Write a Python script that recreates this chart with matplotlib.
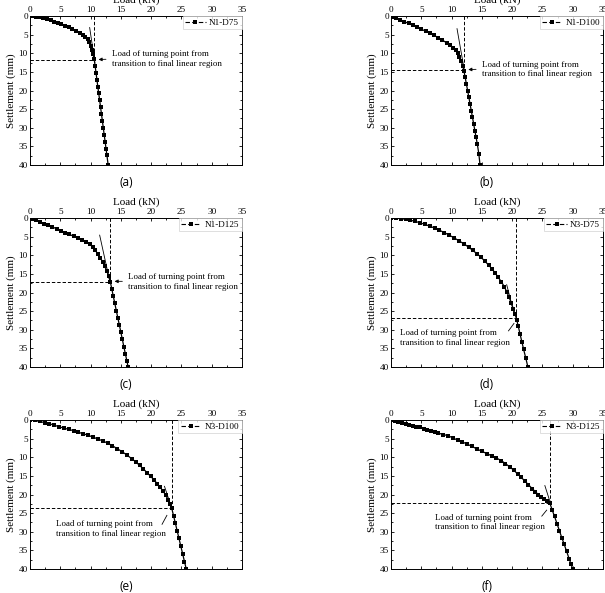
import matplotlib
matplotlib.use("Agg")
import matplotlib.pyplot as plt
from matplotlib.lines import Line2D
from matplotlib.ticker import MultipleLocator

# load (kN) / settlement (mm)
load_a = [0, 0.5, 1.0, 1.6, 2.2, 2.8, 3.4, 4.0, 4.6, 5.2, 5.8, 6.4, 7.0, 7.6, 8.2, 8.7, 9.1, 9.5, 9.8, 10.0,
          10.2, 10.4, 10.6, 10.75, 10.9, 11.05, 11.2, 11.35, 11.5, 11.65, 11.8, 11.95, 12.1, 12.25, 12.4, 12.55, 12.7, 12.9]
set_a = [0, 0.05, 0.15, 0.35, 0.6, 0.85, 1.15, 1.5, 1.85, 2.2, 2.6, 3.0, 3.45, 3.9, 4.5, 5.0, 5.6, 6.3, 7.1, 8.0,
         9.0, 10.2, 11.6, 13.4, 15.2, 17.1, 19.0, 20.8, 22.6, 24.5, 26.3, 28.2, 30.0, 31.9, 33.7, 35.6, 37.4, 40.0]

load_b = [0, 0.4, 0.9, 1.5, 2.2, 2.9, 3.6, 4.3, 5.0, 5.7, 6.4, 7.1, 7.8, 8.5, 9.2, 9.8, 10.3, 10.7, 11.0, 11.3,
          11.6, 11.85, 12.05, 12.25, 12.45, 12.65, 12.85, 13.05, 13.25, 13.45, 13.65, 13.85, 14.05, 14.25, 14.5, 14.7]
set_b = [0, 0.3, 0.6, 1.0, 1.5, 2.0, 2.5, 3.0, 3.5, 4.1, 4.6, 5.2, 5.8, 6.5, 7.2, 7.9, 8.5, 9.2, 10.0, 11.0,
         12.2, 13.4, 14.8, 16.5, 18.3, 20.0, 21.8, 23.6, 25.4, 27.2, 29.0, 30.8, 32.6, 34.4, 37.0, 40.0]

load_c = [0, 0.4, 1.0, 1.6, 2.3, 3.0, 3.7, 4.4, 5.1, 5.8, 6.5, 7.2, 7.9, 8.6, 9.3, 9.9, 10.4, 10.8, 11.2, 11.6,
          12.0, 12.35, 12.7, 13.0, 13.25, 13.5, 13.75, 14.0, 14.25, 14.5, 14.75, 15.0, 15.25, 15.5, 15.75, 16.0, 16.2]
set_c = [0, 0.2, 0.6, 1.0, 1.5, 2.0, 2.4, 2.9, 3.4, 3.9, 4.4, 4.9, 5.4, 5.9, 6.4, 7.1, 7.9, 8.7, 9.7, 10.7,
         11.8, 13.0, 14.3, 15.6, 17.1, 19.0, 21.0, 22.9, 24.9, 26.8, 28.7, 30.7, 32.6, 34.6, 36.5, 38.4, 40.0]

load_d = [0, 0.8, 1.6, 2.4, 3.2, 4.0, 4.8, 5.6, 6.4, 7.2, 8.0, 8.8, 9.6, 10.4, 11.2, 12.0, 12.8, 13.5, 14.2, 14.9,
          15.5, 16.1, 16.7, 17.2, 17.7, 18.2, 18.7, 19.1, 19.5, 19.85, 20.2, 20.5, 20.75, 21.0, 21.3, 21.6, 21.9, 22.25, 22.6]
set_d = [0, 0.05, 0.15, 0.35, 0.6, 0.9, 1.3, 1.7, 2.2, 2.7, 3.3, 3.9, 4.6, 5.3, 6.1, 6.9, 7.8, 8.7, 9.6, 10.6,
         11.6, 12.6, 13.7, 14.8, 15.9, 17.1, 18.4, 19.8, 21.3, 22.8, 24.4, 25.9, 27.3, 29.0, 31.1, 33.2, 35.3, 37.6, 40.0]

load_e = [0, 0.8, 1.6, 2.4, 3.2, 4.0, 4.8, 5.6, 6.4, 7.2, 8.0, 8.8, 9.6, 10.4, 11.2, 12.0, 12.8, 13.6, 14.4, 15.2,
          16.0, 16.8, 17.5, 18.1, 18.7, 19.3, 19.9, 20.5, 21.0, 21.5, 22.0, 22.4, 22.8, 23.1, 23.4, 23.7, 24.0, 24.3,
          24.6, 24.9, 25.2, 25.5, 25.8]
set_e = [0, 0.1, 0.4, 0.7, 1.0, 1.4, 1.8, 2.2, 2.5, 2.9, 3.3, 3.7, 4.1, 4.6, 5.1, 5.6, 6.2, 6.9, 7.7, 8.5,
         9.4, 10.4, 11.3, 12.2, 13.1, 14.1, 15.1, 16.1, 17.1, 18.1, 19.1, 20.2, 21.4, 22.5, 23.7, 25.7, 27.7, 29.8,
         31.8, 33.9, 35.9, 38.0, 40.0]

load_f = [0, 0.6, 1.2, 1.8, 2.4, 3.0, 3.6, 4.2, 4.8, 5.4, 6.0, 6.6, 7.2, 7.8, 8.6, 9.4, 10.2, 11.0, 11.8, 12.6,
          13.4, 14.2, 15.0, 15.8, 16.6, 17.4, 18.2, 18.9, 19.6, 20.3, 20.9, 21.5, 22.1, 22.7, 23.3, 23.8, 24.3, 24.8,
          25.3, 25.8, 26.2, 26.6, 27.0, 27.4, 27.8, 28.2, 28.6, 29.0, 29.4, 29.7, 30.0]
set_f = [0, 0.2, 0.5, 0.8, 1.1, 1.4, 1.6, 1.8, 2.0, 2.3, 2.6, 2.9, 3.2, 3.5, 3.9, 4.2, 4.8, 5.4, 5.9, 6.5,
         7.1, 7.8, 8.4, 9.0, 9.6, 10.2, 10.9, 11.7, 12.6, 13.5, 14.5, 15.4, 16.4, 17.4, 18.4, 19.2, 20.0, 20.7,
         21.3, 21.8, 22.2, 24.1, 25.9, 27.8, 29.7, 31.6, 33.4, 35.3, 37.2, 38.6, 40.0]

names = ["N1-D75", "N1-D100", "N1-D125", "N3-D75", "N3-D100", "N3-D125"]
sub_labels = ["(a)", "(b)", "(c)", "(d)", "(e)", "(f)"]
loads = [load_a, load_b, load_c, load_d, load_e, load_f]
settles = [set_a, set_b, set_c, set_d, set_e, set_f]

# turning point (load, settlement)
turn_load = [10.6, 12.0, 13.15, 20.7, 23.4, 26.3]
turn_set = [11.7, 14.4, 17.1, 26.9, 23.7, 22.2]

# tangent line of the final linear region: (x0, y0, x1, y1)
tangents = [(9.85, 3.1, 10.7, 12.5), (10.9, 3.4, 12.1, 14.5), (11.5, 4.6, 13.2, 17.2),
            (19.1, 17.9, 20.3, 25.5), (22.2, 17.8, 23.4, 23.7), (25.4, 17.6, 26.3, 22.2)]

# annotation text anchor and pointer segment
note = "Load of turning point from\ntransition to final linear region"
note_xy = [(13.5, 11.6), (15.0, 14.3), (16.2, 17.2), (1.5, 32.2), (4.3, 29.3), (7.3, 27.5)]
pointer = [(13.0, 11.6, 10.85, 11.7), (14.5, 14.3, 12.3, 14.4), (15.7, 17.0, 13.5, 17.0),
           (19.4, 30.3, 20.3, 28.3), (21.8, 28.0, 22.6, 25.6), (24.9, 25.8, 25.7, 24.2)]
arrow_head = [True, True, True, False, False, False]

W, H = 605, 593
fig = plt.figure(figsize=(W / 100, H / 100), dpi=100)

serif = "Liberation Serif"
lefts = [30, 391]
tops = [16, 218, 420]
aw, ah = 212, 149

for i in range(6):
    r, c = divmod(i, 2)
    x0 = lefts[c]
    y0 = tops[r]
    ax = fig.add_axes([x0 / W, 1 - (y0 + ah) / H, aw / W, ah / H])

    ax.plot(loads[i], settles[i], color="k", lw=0.9, marker="s", ms=2.6, mew=0)
    tl, ts = turn_load[i], turn_set[i]
    ax.plot([tl, tl], [0, ts], color="k", lw=0.7, ls=(0, (3.5, 2)))
    ax.plot([0, tl], [ts, ts], color="k", lw=0.7, ls=(0, (3.5, 2)))
    tx0, ty0, tx1, ty1 = tangents[i]
    ax.plot([tx0, tx1], [ty0, ty1], color="k", lw=0.6)

    nx, ny = note_xy[i]
    ax.text(nx, ny, note, fontsize=6.4, family=serif, va="center", ha="left", linespacing=1.25)
    px0, py0, px1, py1 = pointer[i]
    if arrow_head[i]:
        ax.annotate("", xy=(px1, py1), xytext=(px0, py0),
                    arrowprops=dict(arrowstyle="-|>", color="k", lw=0.6, mutation_scale=5))
    else:
        ax.plot([px0, px1], [py0, py1], color="k", lw=0.6)

    ax.set_xlim(0, 35)
    ax.set_ylim(40, 0)
    ax.xaxis.set_major_locator(MultipleLocator(5))
    ax.xaxis.set_minor_locator(MultipleLocator(2.5))
    ax.yaxis.set_major_locator(MultipleLocator(5))
    ax.yaxis.set_minor_locator(MultipleLocator(2.5))
    ax.tick_params(which="both", direction="in", top=True, bottom=True, left=True, right=True,
                   labeltop=True, labelbottom=False, width=0.6, pad=1.5)
    ax.tick_params(which="major", length=2.5)
    ax.tick_params(which="minor", length=1.5)
    for lab in ax.get_xticklabels() + ax.get_yticklabels():
        lab.set_family(serif)
        lab.set_fontsize(6.6)
    for sp in ax.spines.values():
        sp.set_linewidth(0.7)

    ax.xaxis.set_label_position("top")
    ax.set_xlabel("Load (kN)", family=serif, fontsize=8, labelpad=2)
    ax.set_ylabel("Settlement (mm)", family=serif, fontsize=8, labelpad=2)

    handle = Line2D([], [], color="k", lw=0.8, ls=(0, (4, 2)), marker="s", ms=2.4, mew=0)
    leg = ax.legend([handle], [names[i]], loc="upper right", borderaxespad=0.05,
                    prop={"family": serif, "size": 6.6}, frameon=True, fancybox=False,
                    handlelength=2.2, handletextpad=0.4, borderpad=0.25, markerscale=1)
    leg.get_frame().set_edgecolor("#d0d0d0")
    leg.get_frame().set_linewidth(0.6)

    fig.text((x0 + 96) / W, 1 - (y0 + 167) / H, sub_labels[i], fontsize=8.5,
             family="Open Sans", ha="center", va="center")

fig.savefig("out.png", dpi=100)
